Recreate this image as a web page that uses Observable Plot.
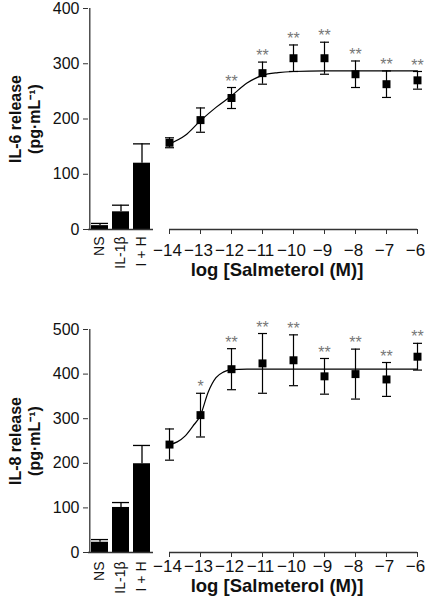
<!DOCTYPE html>
<html>
<head>
<meta charset="utf-8">
<script src="https://cdn.jsdelivr.net/npm/d3@7"></script>
<script src="https://cdn.jsdelivr.net/npm/@observablehq/plot@0.6"></script>
<style>
  html, body { margin: 0; padding: 0; background: #fff; overflow: hidden; }
  .panel { position: relative; width: 425px; }
  .panel svg { position: absolute; top: 0; }
</style>
</head>
<body>
<div id="top" class="panel" style="height:300px"></div>
<div id="bottom" class="panel" style="height:303px"></div>
<script>
// ---- Data ----
const barCats = ["NS", "IL-1β", "I + H"];
const logConc = [-14, -13, -12, -11, -10, -9, -8, -7, -6];
const xTicks = [-14, -13, -12, -11, -10, -9, -8, -7, -6];

// IL-6 panel
const il6BarMean = [7, 32, 120];
const il6BarErr = [4, 12, 35];
const il6Mean = [157, 198, 238, 283, 310, 310, 281, 263, 270];
const il6Err = [9, 22, 19, 20, 24, 29, 24, 24, 16];
const il6Sig = ["", "", "**", "**", "**", "**", "**", "**", "**"];
const il6CurveX = [-14, -13.5, -13, -12.5, -12, -11.5, -11, -10.5, -10, -9, -8, -7, -6];
const il6CurveY = [155, 170, 197, 221, 242, 265, 279, 284, 286, 287, 287, 287, 287];
const il6YTicks = [0, 100, 200, 300, 400];

// IL-8 panel
const il8BarMean = [23, 101, 199];
const il8BarErr = [6, 11, 41];
const il8Mean = [242, 308, 411, 424, 431, 395, 400, 388, 439];
const il8Err = [35, 49, 46, 67, 57, 40, 56, 38, 30];
const il8Sig = ["", "*", "**", "**", "**", "**", "**", "**", "**"];
const il8CurveX = [-14, -13.75, -13.5, -13.25, -13, -12.75, -12.5, -12.25, -12, -11.5, -6];
const il8CurveY = [242, 248, 261, 283, 308, 360, 392, 405, 410, 411, 411];
const il8YTicks = [0, 100, 200, 300, 400, 500];

const FONT = "'Liberation Sans', Arial, Helvetica, sans-serif";
const capSymbol = {
  draw(ctx) { ctx.moveTo(-4.5, 0); ctx.lineTo(4.5, 0); }
};
const fmtTick = d => (d < 0 ? "\u2212" + Math.abs(d) : String(d));

function panel(el, cfg) {
  const {height, mt, mb, yMax, yTicks, barMean, barErr, mean, err, sig, cx, cy, ylab1, ylab2,
         axisLabelDy, tickPad, barPad} = cfg;
  const bars = barCats.map((c, i) => ({c, v: barMean[i], e: barMean[i] + barErr[i]}));
  const pts = logConc.map((x, i) => ({x, v: mean[i], lo: mean[i] - err[i], hi: mean[i] + err[i], s: sig[i]}));
  const curve = cx.map((x, i) => ({x, y: cy[i]}));

  const left = Plot.plot({
    width: 160, height,
    marginLeft: 88, marginRight: 7, marginTop: mt, marginBottom: mb,
    style: {fontFamily: FONT, fontSize: "16px", color: "#111", overflow: "visible", background: "transparent"},
    x: {type: "band", domain: barCats, paddingInner: 0.2, paddingOuter: 0.1, axis: null},
    y: {domain: [0, yMax], axis: null},
    marks: [
      Plot.barY(bars, {x: "c", y: "v", fill: "#000"}),
      Plot.ruleX(bars, {x: "c", y1: "v", y2: "e", stroke: "#000", strokeWidth: 1.3}),
      Plot.tickY(bars, {y: "e", x: "c", stroke: "#000", strokeWidth: 1.3}),
      Plot.axisX({tickRotate: -90, tickSize: 0, tickPadding: barPad, label: null, fontSize: 14}),
      Plot.ruleY([0], {stroke: "#333", strokeWidth: 1.3}),
      Plot.axisY({ticks: yTicks, tickSize: 5, tickPadding: 4, label: null, fontSize: 16, stroke: "#333"}),
      Plot.ruleX([0], {x: () => barCats[0], dx: -10.2, stroke: "#333", strokeWidth: 1.3, y1: 0, y2: yMax}),
      Plot.text([`${ylab1}\n${ylab2}`], {frameAnchor: "left", textAnchor: "middle", rotate: -90, dx: -64,
                 fontWeight: "bold", fontSize: 16, lineHeight: 1.15})
    ]
  });
  left.style.left = "0px";

  const right = Plot.plot({
    width: 275, height,
    marginLeft: 19, marginRight: 8, marginTop: mt, marginBottom: mb,
    style: {fontFamily: FONT, fontSize: "16px", color: "#111", overflow: "visible", background: "transparent"},
    x: {domain: [-14, -6], axis: null},
    y: {domain: [0, yMax], axis: null},
    marks: [
      Plot.ruleY([0], {x1: -14, x2: -6, stroke: "#333", strokeWidth: 1.3}),
      Plot.axisX({ticks: xTicks, tickSize: 5, label: null, stroke: "#333", tickFormat: () => ""}),
      Plot.axisX({ticks: xTicks, tickSize: 0, tickPadding: tickPad + 5, label: null, fontSize: 17,
                  dx: -2, tickFormat: fmtTick}),
      Plot.line(curve, {x: "x", y: "y", stroke: "#000", strokeWidth: 1.2, curve: "monotone-x"}),
      Plot.ruleX(pts, {x: "x", y1: "lo", y2: "hi", stroke: "#000", strokeWidth: 1.2}),
      Plot.dot(pts, {x: "x", y: "hi", symbol: capSymbol, stroke: "#000", strokeWidth: 1.2, r: 3}),
      Plot.dot(pts, {x: "x", y: "lo", symbol: capSymbol, stroke: "#000", strokeWidth: 1.2, r: 3}),
      Plot.dot(pts, {x: "x", y: "v", symbol: "square", fill: "#000", r: 4.5}),
      Plot.text(pts, {x: "x", y: "hi", text: "s", dy: -6, fill: "#777", fontSize: 16}),
      Plot.text(["log [Salmeterol (M)]"], {frameAnchor: "bottom", dy: axisLabelDy, dx: -16.5,
                fontWeight: "bold", fontSize: 18.5})
    ]
  });
  right.style.left = "150px";

  el.append(left, right);
}

panel(document.getElementById("top"), {
  height: 300, mt: 8, mb: 71, yMax: 400, yTicks: il6YTicks,
  barMean: il6BarMean, barErr: il6BarErr, mean: il6Mean, err: il6Err, sig: il6Sig,
  cx: il6CurveX, cy: il6CurveY, ylab1: "IL-6 release", ylab2: "(pg·mL⁻¹)",
  axisLabelDy: 46, tickPad: 9, barPad: 7
});
panel(document.getElementById("bottom"), {
  height: 303, mt: 29, mb: 51, yMax: 500, yTicks: il8YTicks,
  barMean: il8BarMean, barErr: il8BarErr, mean: il8Mean, err: il8Err, sig: il8Sig,
  cx: il8CurveX, cy: il8CurveY, ylab1: "IL-8 release", ylab2: "(pg·mL⁻¹)",
  axisLabelDy: 39, tickPad: 2, barPad: 9
});
</script>
</body>
</html>
